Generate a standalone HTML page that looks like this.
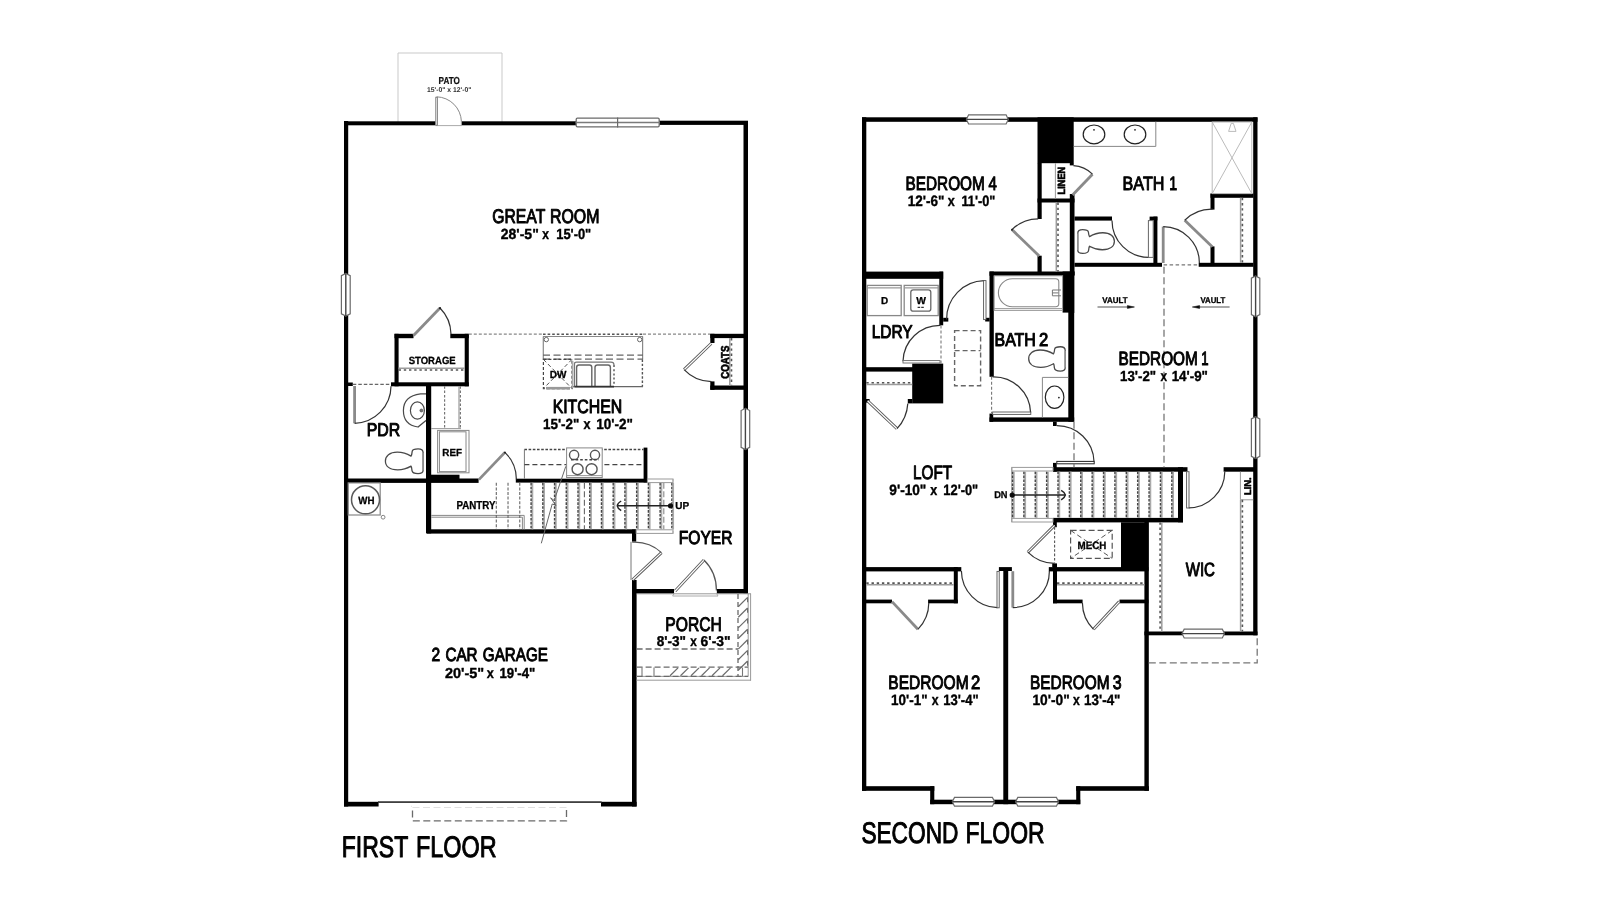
<!DOCTYPE html>
<html><head><meta charset="utf-8"><title>Floor plan</title>
<style>
html,body{margin:0;padding:0;background:#fff;}
body{width:1600px;height:899px;overflow:hidden;font-family:"Liberation Sans",sans-serif;}
svg{display:block;}
</style></head><body>
<svg width="1600" height="899" viewBox="0 0 1600 899">
<defs><filter id="soft" x="0" y="0" width="1600" height="899" filterUnits="userSpaceOnUse"><feGaussianBlur stdDeviation="0.5"/></filter></defs>
<rect x="0" y="0" width="1600" height="899" fill="#fff"/>
<g filter="url(#soft)">
<path d="M398,122 V53 H502 V122" fill="none" stroke="#c9c9c9" stroke-width="1" />
<rect x="344.00" y="121.30" width="232.00" height="4.00" fill="#000"/>
<rect x="659.00" y="120.70" width="89.00" height="4.20" fill="#000"/>
<rect x="344.00" y="121.00" width="4.20" height="685.50" fill="#000"/>
<rect x="743.50" y="121.00" width="4.50" height="472.60" fill="#000"/>
<rect x="344.00" y="801.80" width="34.60" height="4.70" fill="#000"/>
<rect x="601.00" y="801.80" width="35.60" height="4.70" fill="#000"/>
<line x1="378.00" y1="802.20" x2="601.50" y2="802.20" stroke="#333" stroke-width="1.2"/>
<rect x="412.50" y="806.50" width="154.00" height="14.30" fill="none" stroke="#6a6a6a" stroke-width="1.3" stroke-dasharray="7 3.5"/>
<rect x="412.00" y="805.00" width="155.00" height="2.20" fill="#fff"/>
<line x1="378.00" y1="802.20" x2="601.50" y2="802.20" stroke="#333" stroke-width="1.2"/>
<rect x="632.00" y="580.00" width="4.60" height="226.50" fill="#000"/>
<rect x="632.00" y="529.50" width="4.20" height="12.30" fill="#000"/>
<rect x="636.00" y="589.00" width="38.20" height="4.60" fill="#000"/>
<rect x="716.60" y="589.00" width="31.40" height="4.60" fill="#000"/>
<rect x="435.30" y="120.00" width="26.50" height="6.50" fill="#fff"/>
<line x1="435.30" y1="125.60" x2="461.80" y2="125.60" stroke="#aaa" stroke-width="1"/>
<line x1="436.60" y1="96.80" x2="436.60" y2="125.50" stroke="#666" stroke-width="2.4"/>
<line x1="436.60" y1="97.60" x2="436.60" y2="124.80" stroke="#fff" stroke-width="0.8"/>
<path d="M436.6,96.8 A25.5,25.5 0 0 1 461.4,121.5" fill="none" stroke="#888" stroke-width="1" />
<line x1="461.40" y1="121.00" x2="461.40" y2="125.50" stroke="#999" stroke-width="1"/>
<rect x="576.60" y="117.60" width="82.20" height="9.80" fill="#fff"/>
<rect x="576.20" y="118.20" width="83.00" height="8.60" fill="#fff" stroke="#6a6a6a" stroke-width="1.3" rx="1.2"/>
<line x1="575.60" y1="122.50" x2="659.80" y2="122.50" stroke="#7a7a7a" stroke-width="1.6"/>
<line x1="617.60" y1="117.60" x2="617.60" y2="127.40" stroke="#6a6a6a" stroke-width="1.2"/>
<rect x="340.80" y="274.50" width="10.00" height="40.50" fill="#fff"/>
<path d="M345.80,273.50 L350.20,275.70 V313.80 L345.80,316.00 L341.40,313.80 V275.70 Z" fill="#fff" stroke="#6a6a6a" stroke-width="1.2" />
<line x1="345.80" y1="273.50" x2="345.80" y2="316.00" stroke="#444" stroke-width="1.4"/>
<rect x="740.50" y="409.30" width="9.80" height="39.20" fill="#fff"/>
<path d="M745.40,408.30 L749.70,410.50 V447.30 L745.40,449.50 L741.10,447.30 V410.50 Z" fill="#fff" stroke="#6a6a6a" stroke-width="1.2" />
<line x1="745.40" y1="408.30" x2="745.40" y2="449.50" stroke="#444" stroke-width="1.4"/>
<rect x="394.50" y="333.80" width="19.00" height="4.40" fill="#000"/>
<rect x="450.30" y="333.80" width="18.50" height="4.40" fill="#000"/>
<rect x="394.50" y="333.80" width="4.10" height="52.50" fill="#000"/>
<rect x="464.70" y="333.80" width="4.10" height="52.50" fill="#000"/>
<rect x="391.00" y="382.30" width="77.80" height="4.00" fill="#000"/>
<rect x="348.00" y="382.50" width="4.80" height="3.50" fill="#000"/>
<line x1="352.80" y1="384.30" x2="391.00" y2="384.30" stroke="#666" stroke-width="1.2" stroke-dasharray="3.5 2"/>
<line x1="398.60" y1="368.30" x2="464.70" y2="368.30" stroke="#9c9c9c" stroke-width="1.5"/>
<line x1="398.60" y1="370.00" x2="464.70" y2="370.00" stroke="#555" stroke-width="1.6" stroke-dasharray="2.4 2.8"/>
<line x1="413.50" y1="335.50" x2="440.00" y2="308.00" stroke="#8a8a8a" stroke-width="2.8"/>
<path d="M440.00,308.00 A38.19,38.19 0 0 1 451.00,334.00" fill="none" stroke="#333" stroke-width="1.2" />
<circle cx="440" cy="308.2" r="1.1" fill="#222"/>
<line x1="468.80" y1="334.20" x2="543.00" y2="334.20" stroke="#888" stroke-width="1.2" stroke-dasharray="3 2"/>
<line x1="543.00" y1="334.20" x2="643.00" y2="334.20" stroke="#555" stroke-width="1.6" stroke-dasharray="2.6 2"/>
<line x1="643.00" y1="334.20" x2="710.30" y2="334.20" stroke="#888" stroke-width="1.2" stroke-dasharray="3 2"/>
<line x1="543.00" y1="336.50" x2="643.00" y2="336.50" stroke="#888" stroke-width="1"/>
<line x1="543.30" y1="336.50" x2="543.30" y2="359.50" stroke="#888" stroke-width="1.2"/>
<line x1="642.60" y1="336.50" x2="642.60" y2="359.50" stroke="#888" stroke-width="1.2"/>
<line x1="642.40" y1="359.50" x2="642.40" y2="386.80" stroke="#555" stroke-width="1.4" stroke-dasharray="2.4 1.8"/>
<line x1="572.30" y1="386.60" x2="643.00" y2="386.60" stroke="#666" stroke-width="1.4"/>
<circle cx="546.3" cy="339.6" r="2.2" fill="#fff" stroke="#666" stroke-width="1"/>
<circle cx="639.7" cy="339.6" r="2.2" fill="#fff" stroke="#666" stroke-width="1"/>
<line x1="543.00" y1="355.20" x2="643.00" y2="355.20" stroke="#666" stroke-width="1.2" stroke-dasharray="7 3.5"/>
<line x1="543.00" y1="359.20" x2="643.00" y2="359.20" stroke="#666" stroke-width="1.2" stroke-dasharray="7 3.5"/>
<rect x="543.40" y="359.40" width="28.60" height="29.20" fill="none" stroke="#444" stroke-width="1.2" stroke-dasharray="3 2"/>
<line x1="543.40" y1="359.40" x2="572.00" y2="388.60" stroke="#555" stroke-width="1" stroke-dasharray="4 2.5"/>
<line x1="572.00" y1="359.40" x2="543.40" y2="388.60" stroke="#555" stroke-width="1" stroke-dasharray="4 2.5"/>
<line x1="546.00" y1="388.20" x2="570.00" y2="388.20" stroke="#999" stroke-width="2.6"/>
<line x1="572.60" y1="361.00" x2="572.60" y2="388.00" stroke="#aaa" stroke-width="1.6"/>
<path d="M574.5,386.6 V364 Q574.5,362.2 576.5,362.2 H611 Q614,362.2 614,365" fill="none" stroke="#777" stroke-width="1.2" />
<line x1="614.00" y1="365.00" x2="614.00" y2="386.60" stroke="#666" stroke-width="1.6" stroke-dasharray="2 2.2"/>
<path d="M576.6,386 V367.5 Q576.6,365 579,365 H589.5 Q591.8,365 591.8,367.5 V386" fill="none" stroke="#666" stroke-width="1.4" />
<path d="M595,386 V367.5 Q595,365 597.4,365 H608 Q610.4,365 610.4,367.5 V386" fill="none" stroke="#666" stroke-width="1.4" />
<line x1="574.50" y1="386.60" x2="614.00" y2="386.60" stroke="#333" stroke-width="1.6"/>
<rect x="710.30" y="333.80" width="33.70" height="4.30" fill="#000"/>
<rect x="710.30" y="333.80" width="4.20" height="9.20" fill="#000"/>
<rect x="710.30" y="385.50" width="33.70" height="4.30" fill="#000"/>
<rect x="710.30" y="381.40" width="4.20" height="8.40" fill="#000"/>
<line x1="729.80" y1="338.00" x2="729.80" y2="385.50" stroke="#9c9c9c" stroke-width="1.5"/>
<line x1="731.50" y1="338.00" x2="731.50" y2="385.50" stroke="#555" stroke-width="1.6" stroke-dasharray="2.4 2.8"/>
<line x1="711.20" y1="343.50" x2="684.10" y2="369.70" stroke="#555" stroke-width="3.0"/>
<line x1="711.20" y1="343.50" x2="684.10" y2="369.70" stroke="#fff" stroke-width="1.2"/>
<path d="M684.10,369.70 A37.69,37.69 0 0 0 711.50,381.60" fill="none" stroke="#333" stroke-width="1.2" />
<rect x="426.00" y="386.00" width="5.20" height="147.40" fill="#000"/>
<rect x="344.00" y="478.50" width="134.60" height="4.40" fill="#000"/>
<rect x="430.50" y="474.70" width="29.00" height="4.50" fill="#000"/>
<rect x="515.80" y="478.70" width="131.50" height="3.90" fill="#000"/>
<rect x="643.60" y="447.60" width="3.80" height="34.80" fill="#000"/>
<rect x="427.00" y="529.30" width="209.20" height="4.30" fill="#000"/>
<line x1="354.60" y1="386.00" x2="354.60" y2="423.30" stroke="#8a8a8a" stroke-width="2.8"/>
<path d="M354.60,423.30 A37.30,37.30 0 0 0 391.00,386.30" fill="none" stroke="#333" stroke-width="1.2" />
<path d="M426,393.8 L420.5,393.8 Q403.4,396 403.4,410.5 Q403.4,425 418,427 L426,420.5" fill="#fff" stroke="#4a4a4a" stroke-width="1.2" />
<ellipse cx="417.40" cy="410.50" rx="7.00" ry="8.60" fill="none" stroke="#4a4a4a" stroke-width="1.2"/>
<circle cx="421.4" cy="410.5" r="1.5" fill="#777" stroke="#444" stroke-width="0.6"/>
<path d="M411.02,456.10 C406.06,453.00 401.93,452.10 397.28,452.10 C389.53,452.10 385.40,456.00 385.40,461.00 C385.40,466.00 389.53,469.80 397.79,469.80 C401.93,469.80 406.06,469.00 411.02,466.10 C411.74,467.00 411.74,469.00 411.94,470.30 C412.25,472.50 415.35,473.60 418.04,473.60 C421.03,473.60 423.10,472.50 423.10,470.30 L423.10,452.50 C423.10,450.00 421.03,448.80 418.04,448.80 C415.35,448.80 412.56,449.50 412.25,451.10 C412.05,453.00 411.74,455.00 411.02,456.10 Z" fill="#fff" stroke="#4a4a4a" stroke-width="1.3" stroke-linejoin="round"/>
<line x1="423.10" y1="453.00" x2="423.10" y2="470.00" stroke="#999" stroke-width="1.3"/>
<line x1="444.60" y1="386.30" x2="444.60" y2="428.60" stroke="#777" stroke-width="1.2" stroke-dasharray="2.5 1.8"/>
<line x1="459.00" y1="386.30" x2="459.00" y2="428.60" stroke="#999" stroke-width="1.2"/>
<line x1="460.40" y1="386.30" x2="460.40" y2="428.60" stroke="#777" stroke-width="1.2" stroke-dasharray="2.5 1.8"/>
<line x1="431.00" y1="428.60" x2="461.00" y2="428.60" stroke="#999" stroke-width="1"/>
<rect x="437.60" y="430.40" width="31.40" height="42.40" fill="none" stroke="#888" stroke-width="1"/>
<rect x="439.40" y="431.80" width="26.60" height="39.80" fill="none" stroke="#888" stroke-width="1"/>
<line x1="478.90" y1="479.60" x2="504.90" y2="452.40" stroke="#8a8a8a" stroke-width="2.8"/>
<path d="M504.90,452.40 A37.63,37.63 0 0 1 516.40,479.60" fill="none" stroke="#333" stroke-width="1.2" />
<circle cx="504.9" cy="452.6" r="1.0" fill="#222"/>
<path d="M524.4,449.6 H643.6" fill="none" stroke="#444" stroke-width="1.5" stroke-dasharray="2.6 1.6" />
<line x1="524.40" y1="449.40" x2="524.40" y2="478.70" stroke="#777" stroke-width="1"/>
<line x1="524.40" y1="464.60" x2="643.60" y2="464.60" stroke="#444" stroke-width="1.3" stroke-dasharray="5 3"/>
<rect x="566.60" y="447.90" width="35.60" height="29.60" fill="#fff" stroke="#888" stroke-width="1"/>
<line x1="566.60" y1="475.60" x2="602.20" y2="475.60" stroke="#999" stroke-width="1"/>
<circle cx="574.1" cy="454.9" r="4.6" fill="none" stroke="#555" stroke-width="1.4"/>
<circle cx="595.0" cy="454.9" r="4.6" fill="none" stroke="#555" stroke-width="1.4"/>
<circle cx="577.6" cy="469.2" r="5.5" fill="none" stroke="#555" stroke-width="1.4"/>
<circle cx="591.6" cy="469.2" r="5.5" fill="none" stroke="#555" stroke-width="1.4"/>
<line x1="571.00" y1="459.80" x2="599.00" y2="459.80" stroke="#444" stroke-width="1.4" stroke-dasharray="2.6 2"/>
<rect x="348.20" y="482.90" width="32.00" height="32.10" fill="none" stroke="#888" stroke-width="1.2"/>
<circle cx="365.5" cy="499.8" r="14" fill="none" stroke="#5a5a5a" stroke-width="1.5"/>
<circle cx="383.1" cy="517.2" r="1.9" fill="none" stroke="#777" stroke-width="0.9"/>
<path d="M431.2,515.4 H524.2 V529.3 M431.2,517.2 H522.4 V529.3" fill="none" stroke="#888" stroke-width="1" />
<line x1="496.30" y1="482.80" x2="496.30" y2="529.30" stroke="#666" stroke-width="1.1" stroke-dasharray="3 1.6"/>
<line x1="508.03" y1="482.80" x2="508.03" y2="529.30" stroke="#666" stroke-width="1.1" stroke-dasharray="3 1.6"/>
<line x1="519.76" y1="482.80" x2="519.76" y2="529.30" stroke="#666" stroke-width="1.1" stroke-dasharray="3 1.6"/>
<line x1="532.39" y1="482.80" x2="532.39" y2="529.30" stroke="#aaa" stroke-width="1.8"/>
<line x1="531.09" y1="482.80" x2="531.09" y2="529.30" stroke="#444" stroke-width="1.4" stroke-dasharray="2.6 1.3"/>
<line x1="544.12" y1="482.80" x2="544.12" y2="529.30" stroke="#aaa" stroke-width="1.8"/>
<line x1="542.82" y1="482.80" x2="542.82" y2="529.30" stroke="#444" stroke-width="1.4" stroke-dasharray="2.6 1.3"/>
<line x1="555.85" y1="482.80" x2="555.85" y2="529.30" stroke="#aaa" stroke-width="1.8"/>
<line x1="554.55" y1="482.80" x2="554.55" y2="529.30" stroke="#444" stroke-width="1.4" stroke-dasharray="2.6 1.3"/>
<line x1="567.58" y1="482.80" x2="567.58" y2="529.30" stroke="#aaa" stroke-width="1.8"/>
<line x1="566.28" y1="482.80" x2="566.28" y2="529.30" stroke="#444" stroke-width="1.4" stroke-dasharray="2.6 1.3"/>
<line x1="579.31" y1="482.80" x2="579.31" y2="529.30" stroke="#aaa" stroke-width="1.8"/>
<line x1="578.01" y1="482.80" x2="578.01" y2="529.30" stroke="#444" stroke-width="1.4" stroke-dasharray="2.6 1.3"/>
<line x1="591.04" y1="482.80" x2="591.04" y2="529.30" stroke="#aaa" stroke-width="1.8"/>
<line x1="589.74" y1="482.80" x2="589.74" y2="529.30" stroke="#444" stroke-width="1.4" stroke-dasharray="2.6 1.3"/>
<line x1="602.77" y1="482.80" x2="602.77" y2="529.30" stroke="#aaa" stroke-width="1.8"/>
<line x1="601.47" y1="482.80" x2="601.47" y2="529.30" stroke="#444" stroke-width="1.4" stroke-dasharray="2.6 1.3"/>
<line x1="614.50" y1="482.80" x2="614.50" y2="529.30" stroke="#aaa" stroke-width="1.8"/>
<line x1="613.20" y1="482.80" x2="613.20" y2="529.30" stroke="#444" stroke-width="1.4" stroke-dasharray="2.6 1.3"/>
<line x1="626.23" y1="482.80" x2="626.23" y2="529.30" stroke="#aaa" stroke-width="1.8"/>
<line x1="624.93" y1="482.80" x2="624.93" y2="529.30" stroke="#444" stroke-width="1.4" stroke-dasharray="2.6 1.3"/>
<line x1="637.96" y1="482.80" x2="637.96" y2="529.30" stroke="#aaa" stroke-width="1.8"/>
<line x1="636.66" y1="482.80" x2="636.66" y2="529.30" stroke="#444" stroke-width="1.4" stroke-dasharray="2.6 1.3"/>
<line x1="649.69" y1="482.80" x2="649.69" y2="529.30" stroke="#aaa" stroke-width="1.8"/>
<line x1="648.39" y1="482.80" x2="648.39" y2="529.30" stroke="#444" stroke-width="1.4" stroke-dasharray="2.6 1.3"/>
<line x1="661.42" y1="482.80" x2="661.42" y2="529.30" stroke="#aaa" stroke-width="1.8"/>
<line x1="660.12" y1="482.80" x2="660.12" y2="529.30" stroke="#444" stroke-width="1.4" stroke-dasharray="2.6 1.3"/>
<line x1="673.15" y1="482.80" x2="673.15" y2="529.30" stroke="#aaa" stroke-width="1.8"/>
<line x1="671.85" y1="482.80" x2="671.85" y2="529.30" stroke="#444" stroke-width="1.4" stroke-dasharray="2.6 1.3"/>
<line x1="584.40" y1="482.80" x2="584.40" y2="529.30" stroke="#666" stroke-width="1.1" stroke-dasharray="6 2.5"/>
<line x1="663.80" y1="482.80" x2="663.80" y2="529.30" stroke="#888" stroke-width="1.1" stroke-dasharray="6 2.5"/>
<rect x="647.40" y="479.00" width="25.60" height="3.60" fill="#fff" stroke="#999" stroke-width="1"/>
<rect x="636.20" y="529.80" width="36.80" height="3.60" fill="#fff" stroke="#999" stroke-width="1"/>
<line x1="673.00" y1="479.00" x2="673.00" y2="533.40" stroke="#aaa" stroke-width="1" stroke-dasharray="2.5 1.5"/>
<path d="M565.8,466.3 L554.2,500.5 L550.6,497.8 L556,505.5 L552.2,504 L541.3,543.3" fill="none" stroke="#666" stroke-width="1" />
<line x1="617.40" y1="505.80" x2="670.60" y2="505.80" stroke="#222" stroke-width="1.4"/>
<path d="M621.2,501 Q617.6,503 617.2,505.8 Q617.6,508.4 621.2,510.6" fill="none" stroke="#222" stroke-width="1.4" />
<circle cx="670.5" cy="505.8" r="2.6" fill="#111"/>
<rect x="630.20" y="541.80" width="6.80" height="38.20" fill="#fff"/>
<line x1="631.00" y1="541.80" x2="631.00" y2="580.00" stroke="#777" stroke-width="1"/>
<line x1="632.60" y1="579.80" x2="661.50" y2="552.60" stroke="#555" stroke-width="3.0"/>
<line x1="632.60" y1="579.80" x2="661.50" y2="552.60" stroke="#fff" stroke-width="1.2"/>
<path d="M661.50,552.60 A39.69,39.69 0 0 0 632.20,542.20" fill="none" stroke="#555" stroke-width="1.2" />
<rect x="674.20" y="588.50" width="42.40" height="5.50" fill="#fff"/>
<path d="M674.2,593.6 L672.6,596 H718 L716.6,593.6" fill="none" stroke="#aaa" stroke-width="1" />
<line x1="675.20" y1="591.00" x2="704.00" y2="560.00" stroke="#555" stroke-width="3.0"/>
<line x1="675.20" y1="591.00" x2="704.00" y2="560.00" stroke="#fff" stroke-width="1.2"/>
<path d="M704.00,560.00 A42.31,42.31 0 0 1 716.40,590.60" fill="none" stroke="#555" stroke-width="1.2" />
<line x1="636.60" y1="593.80" x2="751.00" y2="593.80" stroke="#999" stroke-width="1"/>
<line x1="750.60" y1="593.60" x2="750.60" y2="680.60" stroke="#999" stroke-width="1"/>
<line x1="636.60" y1="680.20" x2="751.00" y2="680.20" stroke="#999" stroke-width="1"/>
<line x1="636.60" y1="676.40" x2="748.40" y2="676.40" stroke="#999" stroke-width="1"/>
<line x1="748.20" y1="593.60" x2="748.20" y2="676.40" stroke="#999" stroke-width="1"/>
<line x1="738.00" y1="594.00" x2="738.00" y2="676.00" stroke="#6a6a6a" stroke-width="1.3" stroke-dasharray="5 3"/>
<line x1="636.60" y1="649.00" x2="738.00" y2="649.00" stroke="#6a6a6a" stroke-width="1.3" stroke-dasharray="6 3"/>
<line x1="636.60" y1="667.20" x2="748.00" y2="667.20" stroke="#6a6a6a" stroke-width="1.3" stroke-dasharray="6 3"/>
<line x1="738.20" y1="606.70" x2="747.60" y2="597.40" stroke="#6a6a6a" stroke-width="1.2"/>
<line x1="747.60" y1="597.40" x2="747.60" y2="602.20" stroke="#6a6a6a" stroke-width="1.1"/>
<line x1="738.20" y1="617.30" x2="747.60" y2="608.00" stroke="#6a6a6a" stroke-width="1.2"/>
<line x1="747.60" y1="608.00" x2="747.60" y2="612.80" stroke="#6a6a6a" stroke-width="1.1"/>
<line x1="738.20" y1="627.90" x2="747.60" y2="618.60" stroke="#6a6a6a" stroke-width="1.2"/>
<line x1="747.60" y1="618.60" x2="747.60" y2="623.40" stroke="#6a6a6a" stroke-width="1.1"/>
<line x1="738.20" y1="638.50" x2="747.60" y2="629.20" stroke="#6a6a6a" stroke-width="1.2"/>
<line x1="747.60" y1="629.20" x2="747.60" y2="634.00" stroke="#6a6a6a" stroke-width="1.1"/>
<line x1="738.20" y1="649.10" x2="747.60" y2="639.80" stroke="#6a6a6a" stroke-width="1.2"/>
<line x1="747.60" y1="639.80" x2="747.60" y2="644.60" stroke="#6a6a6a" stroke-width="1.1"/>
<line x1="738.20" y1="659.70" x2="747.60" y2="650.40" stroke="#6a6a6a" stroke-width="1.2"/>
<line x1="747.60" y1="650.40" x2="747.60" y2="655.20" stroke="#6a6a6a" stroke-width="1.1"/>
<line x1="738.20" y1="670.30" x2="747.60" y2="661.00" stroke="#6a6a6a" stroke-width="1.2"/>
<line x1="747.60" y1="661.00" x2="747.60" y2="665.80" stroke="#6a6a6a" stroke-width="1.1"/>
<line x1="722.50" y1="675.80" x2="730.50" y2="667.90" stroke="#6a6a6a" stroke-width="1.2"/>
<line x1="712.00" y1="675.80" x2="720.00" y2="667.90" stroke="#6a6a6a" stroke-width="1.2"/>
<line x1="701.50" y1="675.80" x2="709.50" y2="667.90" stroke="#6a6a6a" stroke-width="1.2"/>
<line x1="691.00" y1="675.80" x2="699.00" y2="667.90" stroke="#6a6a6a" stroke-width="1.2"/>
<line x1="680.50" y1="675.80" x2="688.50" y2="667.90" stroke="#6a6a6a" stroke-width="1.2"/>
<line x1="670.00" y1="675.80" x2="678.00" y2="667.90" stroke="#6a6a6a" stroke-width="1.2"/>
<line x1="642.00" y1="667.60" x2="642.00" y2="676.20" stroke="#777" stroke-width="1.1"/>
<line x1="654.00" y1="667.60" x2="654.00" y2="676.20" stroke="#777" stroke-width="1.1"/>
<line x1="742.50" y1="667.60" x2="742.50" y2="676.20" stroke="#777" stroke-width="1.1"/>
<line x1="636.60" y1="676.40" x2="748.00" y2="676.40" stroke="#6a6a6a" stroke-width="1.2" stroke-dasharray="6 3"/>
<rect x="862.00" y="117.30" width="395.50" height="4.50" fill="#000"/>
<rect x="862.00" y="117.30" width="4.30" height="673.50" fill="#000"/>
<rect x="1253.20" y="117.30" width="4.30" height="518.00" fill="#000"/>
<rect x="1037.50" y="117.30" width="36.20" height="45.90" fill="#000"/>
<rect x="1069.80" y="163.00" width="3.90" height="2.40" fill="#000"/>
<rect x="1037.50" y="163.00" width="4.20" height="56.00" fill="#000"/>
<rect x="1037.50" y="255.70" width="4.20" height="16.30" fill="#000"/>
<rect x="1037.50" y="198.50" width="37.00" height="4.00" fill="#000"/>
<rect x="1069.80" y="194.00" width="4.70" height="81.00" fill="#000"/>
<rect x="989.50" y="271.50" width="85.00" height="4.30" fill="#000"/>
<rect x="1062.60" y="271.50" width="11.80" height="41.10" fill="#000"/>
<rect x="1068.30" y="312.00" width="5.90" height="109.70" fill="#000"/>
<rect x="989.50" y="271.50" width="4.30" height="105.30" fill="#000"/>
<rect x="989.50" y="417.40" width="84.70" height="4.40" fill="#000"/>
<rect x="989.50" y="413.60" width="3.70" height="8.20" fill="#000"/>
<rect x="1053.00" y="421.70" width="3.70" height="4.30" fill="#000"/>
<rect x="1074.50" y="216.50" width="37.50" height="4.10" fill="#000"/>
<rect x="1153.40" y="216.60" width="4.00" height="46.40" fill="#000"/>
<rect x="1149.60" y="216.60" width="7.80" height="3.80" fill="#000"/>
<rect x="1074.50" y="262.80" width="87.50" height="4.00" fill="#000"/>
<rect x="1198.70" y="262.80" width="54.80" height="4.00" fill="#000"/>
<rect x="1210.50" y="193.60" width="43.00" height="4.20" fill="#000"/>
<rect x="1210.50" y="193.60" width="4.00" height="16.00" fill="#000"/>
<rect x="1210.50" y="246.40" width="4.00" height="16.60" fill="#000"/>
<rect x="862.00" y="271.60" width="81.20" height="7.20" fill="#000"/>
<rect x="939.30" y="271.60" width="3.90" height="53.70" fill="#000"/>
<rect x="943.20" y="317.80" width="5.10" height="3.80" fill="#000"/>
<rect x="985.20" y="317.80" width="4.40" height="3.70" fill="#000"/>
<rect x="862.00" y="367.20" width="51.60" height="4.40" fill="#000"/>
<rect x="912.20" y="363.60" width="31.00" height="39.80" fill="#000"/>
<rect x="907.80" y="399.00" width="4.50" height="4.40" fill="#000"/>
<rect x="866.00" y="399.00" width="3.60" height="3.60" fill="#000"/>
<rect x="1053.00" y="467.20" width="134.50" height="4.50" fill="#000"/>
<rect x="1053.00" y="462.90" width="3.70" height="8.80" fill="#000"/>
<rect x="1178.00" y="467.20" width="5.00" height="55.10" fill="#000"/>
<rect x="1053.00" y="517.90" width="130.00" height="4.50" fill="#000"/>
<rect x="1053.00" y="522.00" width="3.80" height="5.20" fill="#000"/>
<rect x="1223.60" y="467.20" width="30.40" height="4.50" fill="#000"/>
<rect x="1121.00" y="522.30" width="27.40" height="48.50" fill="#000"/>
<rect x="1048.80" y="567.10" width="99.60" height="4.30" fill="#000"/>
<rect x="1052.20" y="563.40" width="4.80" height="3.80" fill="#000"/>
<rect x="1144.40" y="522.00" width="4.40" height="268.80" fill="#000"/>
<rect x="1144.40" y="631.50" width="113.10" height="3.80" fill="#000"/>
<rect x="1053.00" y="567.10" width="4.00" height="36.20" fill="#000"/>
<rect x="1053.00" y="599.60" width="29.60" height="3.70" fill="#000"/>
<rect x="1119.50" y="599.60" width="28.90" height="3.70" fill="#000"/>
<rect x="862.00" y="567.10" width="99.30" height="4.30" fill="#000"/>
<rect x="953.80" y="567.10" width="4.00" height="36.20" fill="#000"/>
<rect x="866.00" y="599.60" width="26.00" height="3.70" fill="#000"/>
<rect x="928.10" y="599.60" width="29.70" height="3.70" fill="#000"/>
<rect x="1003.30" y="570.70" width="4.90" height="233.50" fill="#000"/>
<rect x="998.90" y="567.10" width="13.00" height="3.90" fill="#000"/>
<rect x="862.00" y="786.20" width="72.30" height="4.60" fill="#000"/>
<rect x="1076.20" y="786.20" width="72.70" height="4.60" fill="#000"/>
<rect x="930.20" y="786.20" width="4.10" height="18.00" fill="#000"/>
<rect x="1076.20" y="786.20" width="4.10" height="18.00" fill="#000"/>
<rect x="930.20" y="799.70" width="150.10" height="4.50" fill="#000"/>
<rect x="967.40" y="114.20" width="39.90" height="10.40" fill="#fff"/>
<path d="M966.40,119.40 L968.60,114.80 H1006.10 L1008.30,119.40 L1006.10,124.00 H968.60 Z" fill="#fff" stroke="#6a6a6a" stroke-width="1.2" />
<line x1="966.40" y1="119.40" x2="1008.30" y2="119.40" stroke="#444" stroke-width="1.4"/>
<rect x="1250.80" y="277.00" width="9.60" height="38.80" fill="#fff"/>
<path d="M1255.60,276.00 L1259.80,278.20 V314.60 L1255.60,316.80 L1251.40,314.60 V278.20 Z" fill="#fff" stroke="#6a6a6a" stroke-width="1.2" />
<line x1="1255.60" y1="276.00" x2="1255.60" y2="316.80" stroke="#444" stroke-width="1.4"/>
<rect x="1250.80" y="417.70" width="9.60" height="39.90" fill="#fff"/>
<path d="M1255.60,416.70 L1259.80,418.90 V456.40 L1255.60,458.60 L1251.40,456.40 V418.90 Z" fill="#fff" stroke="#6a6a6a" stroke-width="1.2" />
<line x1="1255.60" y1="416.70" x2="1255.60" y2="458.60" stroke="#444" stroke-width="1.4"/>
<rect x="1183.00" y="628.60" width="40.50" height="10.00" fill="#fff"/>
<path d="M1182.00,633.60 L1184.20,629.20 H1222.30 L1224.50,633.60 L1222.30,638.00 H1184.20 Z" fill="#fff" stroke="#6a6a6a" stroke-width="1.2" />
<line x1="1182.00" y1="633.60" x2="1224.50" y2="633.60" stroke="#444" stroke-width="1.4"/>
<rect x="953.30" y="796.80" width="40.30" height="10.00" fill="#fff"/>
<path d="M952.30,801.80 L954.50,797.40 H992.40 L994.60,801.80 L992.40,806.20 H954.50 Z" fill="#fff" stroke="#6a6a6a" stroke-width="1.2" />
<line x1="952.30" y1="801.80" x2="994.60" y2="801.80" stroke="#444" stroke-width="1.4"/>
<rect x="1016.60" y="796.80" width="41.00" height="10.00" fill="#fff"/>
<path d="M1015.60,801.80 L1017.80,797.40 H1056.40 L1058.60,801.80 L1056.40,806.20 H1017.80 Z" fill="#fff" stroke="#6a6a6a" stroke-width="1.2" />
<line x1="1015.60" y1="801.80" x2="1058.60" y2="801.80" stroke="#444" stroke-width="1.4"/>
<line x1="1055.40" y1="163.20" x2="1055.40" y2="198.50" stroke="#999" stroke-width="1"/>
<line x1="1072.60" y1="195.00" x2="1092.50" y2="174.20" stroke="#8a8a8a" stroke-width="2.8"/>
<path d="M1092.50,174.20 A28.79,28.79 0 0 0 1073.40,165.60" fill="none" stroke="#333" stroke-width="1.2" />
<line x1="1056.30" y1="202.50" x2="1056.30" y2="271.50" stroke="#9c9c9c" stroke-width="1.5"/>
<line x1="1058.00" y1="202.50" x2="1058.00" y2="271.50" stroke="#555" stroke-width="1.6" stroke-dasharray="2.4 2.8"/>
<line x1="1039.20" y1="256.00" x2="1011.90" y2="229.60" stroke="#8a8a8a" stroke-width="2.8"/>
<path d="M1011.90,229.60 A37.98,37.98 0 0 1 1038.20,218.80" fill="none" stroke="#333" stroke-width="1.2" />
<circle cx="1012" cy="229.7" r="1.0" fill="#222"/>
<path d="M1073.7,146.4 H1155.8 V121.8" fill="none" stroke="#888" stroke-width="1" />
<ellipse cx="1094.00" cy="134.40" rx="10.80" ry="9.40" fill="none" stroke="#222" stroke-width="1.2"/>
<ellipse cx="1135.00" cy="134.40" rx="10.80" ry="9.40" fill="none" stroke="#222" stroke-width="1.2"/>
<circle cx="1094" cy="129.8" r="0.9" fill="#222"/>
<circle cx="1135" cy="129.8" r="0.9" fill="#222"/>
<rect x="1212.20" y="122.00" width="39.60" height="71.60" fill="none" stroke="#bbb" stroke-width="1"/>
<line x1="1212.20" y1="122.00" x2="1251.80" y2="193.60" stroke="#bbb" stroke-width="1"/>
<line x1="1251.80" y1="122.00" x2="1212.20" y2="193.60" stroke="#bbb" stroke-width="1"/>
<path d="M1231.2,123.4 L1228.6,131.4 H1236 L1233.4,123.4 Z" fill="#fff" stroke="#bbb" stroke-width="1" />
<line x1="1240.60" y1="197.80" x2="1240.60" y2="262.80" stroke="#9c9c9c" stroke-width="1.5"/>
<line x1="1242.40" y1="197.80" x2="1242.40" y2="262.80" stroke="#555" stroke-width="1.6" stroke-dasharray="2.4 2.8"/>
<line x1="1212.20" y1="246.80" x2="1184.70" y2="220.30" stroke="#8a8a8a" stroke-width="2.8"/>
<path d="M1184.70,220.30 A38.19,38.19 0 0 1 1212.60,209.20" fill="none" stroke="#333" stroke-width="1.2" />
<path d="M1112,220.4 A37,37 0 0 0 1149,257.4" fill="none" stroke="#333" stroke-width="1.2" />
<rect x="1148.40" y="220.60" width="4.80" height="36.80" fill="#fff" stroke="#666" stroke-width="1"/>
<path d="M1089.53,236.60 C1094.35,233.62 1098.36,232.76 1102.87,232.76 C1110.39,232.76 1114.40,236.50 1114.40,241.30 C1114.40,246.10 1110.39,249.75 1102.37,249.75 C1098.36,249.75 1094.35,248.98 1089.53,246.20 C1088.83,247.06 1088.83,248.98 1088.63,250.23 C1088.33,252.34 1085.32,253.40 1082.71,253.40 C1079.81,253.40 1077.80,252.34 1077.80,250.23 L1077.80,233.14 C1077.80,230.74 1079.81,229.59 1082.71,229.59 C1085.32,229.59 1088.03,230.26 1088.33,231.80 C1088.53,233.62 1088.83,235.54 1089.53,236.60 Z" fill="#fff" stroke="#4a4a4a" stroke-width="1.3" stroke-linejoin="round"/>
<line x1="1077.80" y1="233.62" x2="1077.80" y2="249.94" stroke="#999" stroke-width="1.3"/>
<line x1="1163.20" y1="263.00" x2="1163.20" y2="226.60" stroke="#8a8a8a" stroke-width="2.8"/>
<path d="M1163.20,226.60 A36.40,36.40 0 0 1 1199.40,263.00" fill="none" stroke="#333" stroke-width="1.2" />
<line x1="1163.60" y1="264.80" x2="1198.70" y2="264.80" stroke="#777" stroke-width="1.2" stroke-dasharray="3.5 2.5"/>
<line x1="1164.00" y1="266.80" x2="1164.00" y2="467.20" stroke="#777" stroke-width="1.3" stroke-dasharray="7 3.5"/>
<line x1="1097.50" y1="307.00" x2="1128.00" y2="307.00" stroke="#999" stroke-width="1.7"/>
<path d="M1134.4,307 L1127.4,305.6 V308.4 Z" fill="#111" stroke="#111" stroke-width="0.6" />
<line x1="1199.00" y1="307.00" x2="1229.60" y2="307.00" stroke="#999" stroke-width="1.7"/>
<path d="M1192.4,307 L1199.6,305.6 V308.4 Z" fill="#111" stroke="#111" stroke-width="0.6" />
<rect x="867.20" y="285.40" width="34.00" height="30.20" fill="none" stroke="#888" stroke-width="1.3"/>
<rect x="904.20" y="285.40" width="34.00" height="30.20" fill="none" stroke="#888" stroke-width="1.3"/>
<line x1="867.20" y1="287.80" x2="901.20" y2="287.80" stroke="#999" stroke-width="1.2"/>
<line x1="904.20" y1="287.80" x2="938.20" y2="287.80" stroke="#999" stroke-width="1.2"/>
<rect x="910.80" y="289.80" width="20.00" height="21.40" fill="none" stroke="#666" stroke-width="1.3" rx="2.5"/>
<line x1="917.60" y1="307.40" x2="924.40" y2="307.40" stroke="#333" stroke-width="1.3" stroke-dasharray="2.6 1"/>
<path d="M984.2,280.6 A38.5,38.5 0 0 0 946.6,319.4" fill="none" stroke="#333" stroke-width="1.2" />
<rect x="983.60" y="280.60" width="2.40" height="39.00" fill="#fff" stroke="#555" stroke-width="0.9"/>
<path d="M940.6,325.3 A37,37 0 0 0 903,361.2" fill="none" stroke="#333" stroke-width="1.2" />
<rect x="903.00" y="360.60" width="37.00" height="2.40" fill="#fff" stroke="#666" stroke-width="0.9"/>
<line x1="941.00" y1="325.50" x2="941.00" y2="363.50" stroke="#777" stroke-width="1.1" stroke-dasharray="3 2"/>
<rect x="954.60" y="330.60" width="26.00" height="55.20" fill="none" stroke="#666" stroke-width="1.4" stroke-dasharray="5 3"/>
<line x1="954.60" y1="350.60" x2="980.60" y2="350.60" stroke="#666" stroke-width="1.4" stroke-dasharray="5 3"/>
<line x1="866.30" y1="384.50" x2="912.20" y2="384.50" stroke="#9c9c9c" stroke-width="1.5"/>
<line x1="866.30" y1="382.80" x2="912.20" y2="382.80" stroke="#555" stroke-width="1.6" stroke-dasharray="2.4 2.8"/>
<line x1="867.60" y1="400.80" x2="897.00" y2="428.70" stroke="#555" stroke-width="3.0"/>
<line x1="867.60" y1="400.80" x2="897.00" y2="428.70" stroke="#fff" stroke-width="1.2"/>
<path d="M897.00,428.70 A40.53,40.53 0 0 0 907.80,403.60" fill="none" stroke="#333" stroke-width="1.2" />
<rect x="994.20" y="275.80" width="68.40" height="34.60" fill="none" stroke="#999" stroke-width="1"/>
<line x1="994.20" y1="308.60" x2="1062.60" y2="308.60" stroke="#999" stroke-width="1"/>
<path d="M1012.4,278.8 H1055.6 Q1058.8,278.8 1058.8,282 V303.6 Q1058.8,306.8 1055.6,306.8 H1012.4 A14,14 0 0 1 1012.4,278.8 Z" fill="none" stroke="#888" stroke-width="1.1" />
<path d="M1061,290 H1052.4 V295.8 H1061" fill="none" stroke="#777" stroke-width="1" />
<line x1="1052.40" y1="292.90" x2="1058.50" y2="292.90" stroke="#777" stroke-width="1"/>
<path d="M992.6,376.8 A37,37 0 0 1 1030.6,412.4" fill="none" stroke="#333" stroke-width="1.2" />
<rect x="992.60" y="412.00" width="38.20" height="2.40" fill="#fff" stroke="#555" stroke-width="0.9"/>
<line x1="991.60" y1="376.80" x2="991.60" y2="413.60" stroke="#777" stroke-width="1.1" stroke-dasharray="3 2"/>
<path d="M1053.50,353.90 C1048.70,350.86 1044.70,349.98 1040.20,349.98 C1032.70,349.98 1028.70,353.80 1028.70,358.70 C1028.70,363.60 1032.70,367.32 1040.70,367.32 C1044.70,367.32 1048.70,366.54 1053.50,363.70 C1054.20,364.58 1054.20,366.54 1054.40,367.81 C1054.70,369.97 1057.70,371.05 1060.30,371.05 C1063.20,371.05 1065.20,369.97 1065.20,367.81 L1065.20,350.37 C1065.20,347.92 1063.20,346.74 1060.30,346.74 C1057.70,346.74 1055.00,347.43 1054.70,349.00 C1054.50,350.86 1054.20,352.82 1053.50,353.90 Z" fill="#fff" stroke="#4a4a4a" stroke-width="1.3" stroke-linejoin="round"/>
<line x1="1065.20" y1="350.86" x2="1065.20" y2="367.52" stroke="#999" stroke-width="1.3"/>
<path d="M1068.3,377.4 H1042.4 V417.4" fill="none" stroke="#888" stroke-width="1" />
<ellipse cx="1054.60" cy="397.20" rx="9.30" ry="11.20" fill="none" stroke="#222" stroke-width="1.2"/>
<circle cx="1058.9" cy="397.6" r="0.9" fill="#222"/>
<path d="M1056.8,425.6 A37,37 0 0 1 1094,461.6" fill="none" stroke="#333" stroke-width="1.2" />
<rect x="1056.80" y="461.40" width="37.40" height="2.40" fill="#fff" stroke="#222" stroke-width="1"/>
<line x1="1074.00" y1="421.80" x2="1074.00" y2="467.20" stroke="#777" stroke-width="1.3" stroke-dasharray="7 3.5"/>
<rect x="1011.80" y="467.40" width="41.20" height="3.60" fill="#fff" stroke="#999" stroke-width="1"/>
<rect x="1011.80" y="518.40" width="41.20" height="3.60" fill="#fff" stroke="#999" stroke-width="1"/>
<line x1="1011.80" y1="467.40" x2="1011.80" y2="522.00" stroke="#999" stroke-width="1"/>
<line x1="1013.80" y1="471.70" x2="1013.80" y2="517.90" stroke="#aaa" stroke-width="1.8"/>
<line x1="1012.50" y1="471.70" x2="1012.50" y2="517.90" stroke="#444" stroke-width="1.4" stroke-dasharray="2.6 1.3"/>
<line x1="1025.18" y1="471.70" x2="1025.18" y2="517.90" stroke="#aaa" stroke-width="1.8"/>
<line x1="1023.88" y1="471.70" x2="1023.88" y2="517.90" stroke="#444" stroke-width="1.4" stroke-dasharray="2.6 1.3"/>
<line x1="1036.56" y1="471.70" x2="1036.56" y2="517.90" stroke="#aaa" stroke-width="1.8"/>
<line x1="1035.26" y1="471.70" x2="1035.26" y2="517.90" stroke="#444" stroke-width="1.4" stroke-dasharray="2.6 1.3"/>
<line x1="1047.94" y1="471.70" x2="1047.94" y2="517.90" stroke="#aaa" stroke-width="1.8"/>
<line x1="1046.64" y1="471.70" x2="1046.64" y2="517.90" stroke="#444" stroke-width="1.4" stroke-dasharray="2.6 1.3"/>
<line x1="1059.32" y1="471.70" x2="1059.32" y2="517.90" stroke="#aaa" stroke-width="1.8"/>
<line x1="1058.02" y1="471.70" x2="1058.02" y2="517.90" stroke="#444" stroke-width="1.4" stroke-dasharray="2.6 1.3"/>
<line x1="1070.70" y1="471.70" x2="1070.70" y2="517.90" stroke="#aaa" stroke-width="1.8"/>
<line x1="1069.40" y1="471.70" x2="1069.40" y2="517.90" stroke="#444" stroke-width="1.4" stroke-dasharray="2.6 1.3"/>
<line x1="1082.08" y1="471.70" x2="1082.08" y2="517.90" stroke="#aaa" stroke-width="1.8"/>
<line x1="1080.78" y1="471.70" x2="1080.78" y2="517.90" stroke="#444" stroke-width="1.4" stroke-dasharray="2.6 1.3"/>
<line x1="1093.46" y1="471.70" x2="1093.46" y2="517.90" stroke="#aaa" stroke-width="1.8"/>
<line x1="1092.16" y1="471.70" x2="1092.16" y2="517.90" stroke="#444" stroke-width="1.4" stroke-dasharray="2.6 1.3"/>
<line x1="1104.84" y1="471.70" x2="1104.84" y2="517.90" stroke="#aaa" stroke-width="1.8"/>
<line x1="1103.54" y1="471.70" x2="1103.54" y2="517.90" stroke="#444" stroke-width="1.4" stroke-dasharray="2.6 1.3"/>
<line x1="1116.22" y1="471.70" x2="1116.22" y2="517.90" stroke="#aaa" stroke-width="1.8"/>
<line x1="1114.92" y1="471.70" x2="1114.92" y2="517.90" stroke="#444" stroke-width="1.4" stroke-dasharray="2.6 1.3"/>
<line x1="1127.60" y1="471.70" x2="1127.60" y2="517.90" stroke="#aaa" stroke-width="1.8"/>
<line x1="1126.30" y1="471.70" x2="1126.30" y2="517.90" stroke="#444" stroke-width="1.4" stroke-dasharray="2.6 1.3"/>
<line x1="1138.98" y1="471.70" x2="1138.98" y2="517.90" stroke="#aaa" stroke-width="1.8"/>
<line x1="1137.68" y1="471.70" x2="1137.68" y2="517.90" stroke="#444" stroke-width="1.4" stroke-dasharray="2.6 1.3"/>
<line x1="1150.36" y1="471.70" x2="1150.36" y2="517.90" stroke="#aaa" stroke-width="1.8"/>
<line x1="1149.06" y1="471.70" x2="1149.06" y2="517.90" stroke="#444" stroke-width="1.4" stroke-dasharray="2.6 1.3"/>
<line x1="1161.74" y1="471.70" x2="1161.74" y2="517.90" stroke="#aaa" stroke-width="1.8"/>
<line x1="1160.44" y1="471.70" x2="1160.44" y2="517.90" stroke="#444" stroke-width="1.4" stroke-dasharray="2.6 1.3"/>
<line x1="1173.12" y1="471.70" x2="1173.12" y2="517.90" stroke="#aaa" stroke-width="1.8"/>
<line x1="1171.82" y1="471.70" x2="1171.82" y2="517.90" stroke="#444" stroke-width="1.4" stroke-dasharray="2.6 1.3"/>
<line x1="1012.20" y1="495.00" x2="1065.00" y2="495.00" stroke="#222" stroke-width="1.4"/>
<path d="M1061.2,490.4 Q1064.8,492.4 1065.4,495 Q1064.8,497.6 1061.2,499.8" fill="none" stroke="#222" stroke-width="1.4" />
<circle cx="1012.2" cy="495" r="2.6" fill="#111"/>
<path d="M1188.8,507.8 A36.5,36.5 0 0 0 1224.8,471.7" fill="none" stroke="#333" stroke-width="1.2" />
<rect x="1186.60" y="471.70" width="2.40" height="36.30" fill="#fff" stroke="#555" stroke-width="0.9"/>
<path d="M1253.2,499.8 H1240.4 V471.7" fill="none" stroke="#999" stroke-width="1" />
<line x1="1240.60" y1="499.80" x2="1240.60" y2="631.50" stroke="#9c9c9c" stroke-width="1.5"/>
<line x1="1242.40" y1="499.80" x2="1242.40" y2="631.50" stroke="#555" stroke-width="1.6" stroke-dasharray="2.4 2.8"/>
<line x1="1161.80" y1="522.40" x2="1161.80" y2="631.50" stroke="#9c9c9c" stroke-width="1.5"/>
<line x1="1160.10" y1="522.40" x2="1160.10" y2="631.50" stroke="#555" stroke-width="1.6" stroke-dasharray="2.4 2.8"/>
<line x1="1054.60" y1="527.20" x2="1054.60" y2="563.40" stroke="#555" stroke-width="1.1" stroke-dasharray="2.6 1.8"/>
<rect x="1070.60" y="530.40" width="41.60" height="28.00" fill="none" stroke="#555" stroke-width="1.2" stroke-dasharray="6 3"/>
<line x1="1070.60" y1="530.40" x2="1112.20" y2="558.40" stroke="#555" stroke-width="1" stroke-dasharray="5 3"/>
<line x1="1112.20" y1="530.40" x2="1070.60" y2="558.40" stroke="#555" stroke-width="1" stroke-dasharray="5 3"/>
<line x1="1054.60" y1="525.40" x2="1027.80" y2="552.20" stroke="#555" stroke-width="3.0"/>
<line x1="1054.60" y1="525.40" x2="1027.80" y2="552.20" stroke="#fff" stroke-width="1.2"/>
<path d="M1027.80,552.20 A37.90,37.90 0 0 0 1054.40,563.40" fill="none" stroke="#333" stroke-width="1.2" />
<line x1="1057.00" y1="584.80" x2="1144.40" y2="584.80" stroke="#9c9c9c" stroke-width="1.5"/>
<line x1="1057.00" y1="583.10" x2="1144.40" y2="583.10" stroke="#555" stroke-width="1.6" stroke-dasharray="2.4 2.8"/>
<line x1="1119.30" y1="601.60" x2="1093.50" y2="629.30" stroke="#555" stroke-width="3.0"/>
<line x1="1119.30" y1="601.60" x2="1093.50" y2="629.30" stroke="#fff" stroke-width="1.2"/>
<path d="M1093.50,629.30 A37.85,37.85 0 0 1 1082.40,603.00" fill="none" stroke="#333" stroke-width="1.2" />
<line x1="866.30" y1="584.80" x2="953.80" y2="584.80" stroke="#9c9c9c" stroke-width="1.5"/>
<line x1="866.30" y1="583.10" x2="953.80" y2="583.10" stroke="#555" stroke-width="1.6" stroke-dasharray="2.4 2.8"/>
<line x1="892.00" y1="601.60" x2="917.90" y2="629.30" stroke="#8a8a8a" stroke-width="2.8"/>
<path d="M917.90,629.30 A37.92,37.92 0 0 0 928.80,603.00" fill="none" stroke="#333" stroke-width="1.2" />
<path d="M961.4,571 A37,37 0 0 0 997.4,607.6" fill="none" stroke="#333" stroke-width="1.2" />
<rect x="997.00" y="571.40" width="2.20" height="36.40" fill="#fff" stroke="#555" stroke-width="0.9"/>
<line x1="1012.80" y1="571.20" x2="1012.80" y2="607.60" stroke="#8a8a8a" stroke-width="2.8"/>
<path d="M1012.80,607.60 A36.40,36.40 0 0 0 1049.40,571.00" fill="none" stroke="#333" stroke-width="1.2" />
<path d="M1148.8,662.8 H1257.2 V635.3" fill="none" stroke="#777" stroke-width="1.3" stroke-dasharray="7 3.5" />
<g font-family="'Liberation Sans', sans-serif" text-rendering="geometricPrecision">
<text x="438.57" y="84.20" font-size="10.14" font-weight="bold" textLength="21.27" lengthAdjust="spacingAndGlyphs" fill="#111" stroke="#111" stroke-width="0.2" stroke-linejoin="round">PATO</text>
<text x="427.09" y="92.40" font-size="7.04" font-weight="bold" textLength="44.34" lengthAdjust="spacingAndGlyphs" fill="#333">15'-0&quot; x 12'-0&quot;</text>
<text x="492.32" y="223.00" font-size="19.86" font-weight="normal" textLength="52.91" lengthAdjust="spacingAndGlyphs" fill="#000" stroke="#000" stroke-width="1.0" stroke-linejoin="round">GREAT</text>
<text x="549.93" y="223.00" font-size="19.86" font-weight="normal" textLength="49.56" lengthAdjust="spacingAndGlyphs" fill="#000" stroke="#000" stroke-width="1.0" stroke-linejoin="round">ROOM</text>
<text x="500.81" y="238.50" font-size="14.65" font-weight="bold" textLength="37.98" lengthAdjust="spacingAndGlyphs" fill="#000" stroke="#000" stroke-width="0.4" stroke-linejoin="round">28'-5&quot;</text>
<text x="542.28" y="238.50" font-size="14.65" font-weight="bold" textLength="6.69" lengthAdjust="spacingAndGlyphs" fill="#000" stroke="#000" stroke-width="0.4" stroke-linejoin="round">x</text>
<text x="556.23" y="238.50" font-size="14.65" font-weight="bold" textLength="34.99" lengthAdjust="spacingAndGlyphs" fill="#000" stroke="#000" stroke-width="0.4" stroke-linejoin="round">15'-0&quot;</text>
<text x="408.66" y="363.85" font-size="10.43" font-weight="bold" textLength="47.04" lengthAdjust="spacingAndGlyphs" fill="#000" stroke="#000" stroke-width="0.3" stroke-linejoin="round">STORAGE</text>
<text x="366.73" y="436.40" font-size="18.41" font-weight="normal" textLength="33.51" lengthAdjust="spacingAndGlyphs" fill="#000" stroke="#000" stroke-width="1.0" stroke-linejoin="round">PDR</text>
<text x="442.31" y="455.65" font-size="10.29" font-weight="bold" textLength="19.68" lengthAdjust="spacingAndGlyphs" fill="#000" stroke="#000" stroke-width="0.3" stroke-linejoin="round">REF</text>
<text x="549.80" y="378.15" font-size="10.29" font-weight="bold" textLength="16.66" lengthAdjust="spacingAndGlyphs" fill="#000" stroke="#000" stroke-width="0.3" stroke-linejoin="round">DW</text>
<text x="552.63" y="413.30" font-size="19.13" font-weight="normal" textLength="69.50" lengthAdjust="spacingAndGlyphs" fill="#000" stroke="#000" stroke-width="1.0" stroke-linejoin="round">KITCHEN</text>
<text x="543.00" y="429.20" font-size="14.65" font-weight="bold" textLength="36.35" lengthAdjust="spacingAndGlyphs" fill="#000" stroke="#000" stroke-width="0.4" stroke-linejoin="round">15'-2&quot;</text>
<text x="583.57" y="429.20" font-size="14.65" font-weight="bold" textLength="7.00" lengthAdjust="spacingAndGlyphs" fill="#000" stroke="#000" stroke-width="0.4" stroke-linejoin="round">x</text>
<text x="596.29" y="429.20" font-size="14.65" font-weight="bold" textLength="36.67" lengthAdjust="spacingAndGlyphs" fill="#000" stroke="#000" stroke-width="0.4" stroke-linejoin="round">10'-2&quot;</text>
<text transform="translate(729.40,378.40) rotate(-90)" x="-0.39" y="0" font-size="11.45" font-weight="bold" textLength="33.24" lengthAdjust="spacingAndGlyphs" fill="#000" stroke="#000" stroke-width="0.6" stroke-linejoin="round">COATS</text>
<text x="358.35" y="503.55" font-size="10.43" font-weight="bold" textLength="16.24" lengthAdjust="spacingAndGlyphs" fill="#000" stroke="#000" stroke-width="0.3" stroke-linejoin="round">WH</text>
<text x="456.41" y="508.65" font-size="11.59" font-weight="bold" textLength="39.08" lengthAdjust="spacingAndGlyphs" fill="#000" stroke="#000" stroke-width="0.3" stroke-linejoin="round">PANTRY</text>
<text x="675.35" y="509.35" font-size="10.14" font-weight="bold" textLength="13.84" lengthAdjust="spacingAndGlyphs" fill="#000" stroke="#000" stroke-width="0.3" stroke-linejoin="round">UP</text>
<text x="678.85" y="544.30" font-size="18.84" font-weight="normal" textLength="53.65" lengthAdjust="spacingAndGlyphs" fill="#000" stroke="#000" stroke-width="1.0" stroke-linejoin="round">FOYER</text>
<text x="665.25" y="631.00" font-size="19.71" font-weight="normal" textLength="56.63" lengthAdjust="spacingAndGlyphs" fill="#000" stroke="#000" stroke-width="1.0" stroke-linejoin="round">PORCH</text>
<text x="656.79" y="646.00" font-size="14.23" font-weight="bold" textLength="29.25" lengthAdjust="spacingAndGlyphs" fill="#000" stroke="#000" stroke-width="0.4" stroke-linejoin="round">8'-3&quot;</text>
<text x="690.28" y="646.00" font-size="14.23" font-weight="bold" textLength="6.59" lengthAdjust="spacingAndGlyphs" fill="#000" stroke="#000" stroke-width="0.4" stroke-linejoin="round">x</text>
<text x="700.61" y="646.00" font-size="14.23" font-weight="bold" textLength="29.95" lengthAdjust="spacingAndGlyphs" fill="#000" stroke="#000" stroke-width="0.4" stroke-linejoin="round">6'-3&quot;</text>
<text x="431.62" y="661.30" font-size="18.84" font-weight="normal" textLength="8.68" lengthAdjust="spacingAndGlyphs" fill="#000" stroke="#000" stroke-width="1.0" stroke-linejoin="round">2</text>
<text x="445.44" y="661.30" font-size="18.84" font-weight="normal" textLength="32.17" lengthAdjust="spacingAndGlyphs" fill="#000" stroke="#000" stroke-width="1.0" stroke-linejoin="round">CAR</text>
<text x="482.84" y="661.30" font-size="18.84" font-weight="normal" textLength="65.03" lengthAdjust="spacingAndGlyphs" fill="#000" stroke="#000" stroke-width="1.0" stroke-linejoin="round">GARAGE</text>
<text x="444.99" y="677.60" font-size="14.51" font-weight="bold" textLength="39.22" lengthAdjust="spacingAndGlyphs" fill="#000" stroke="#000" stroke-width="0.4" stroke-linejoin="round">20'-5&quot;</text>
<text x="486.77" y="677.60" font-size="14.51" font-weight="bold" textLength="7.11" lengthAdjust="spacingAndGlyphs" fill="#000" stroke="#000" stroke-width="0.4" stroke-linejoin="round">x</text>
<text x="499.51" y="677.60" font-size="14.51" font-weight="bold" textLength="35.83" lengthAdjust="spacingAndGlyphs" fill="#000" stroke="#000" stroke-width="0.4" stroke-linejoin="round">19'-4&quot;</text>
<text x="341.66" y="856.80" font-size="29.71" font-weight="normal" textLength="66.58" lengthAdjust="spacingAndGlyphs" fill="#000" stroke="#000" stroke-width="1.0" stroke-linejoin="round">FIRST</text>
<text x="416.03" y="856.80" font-size="29.71" font-weight="normal" textLength="80.52" lengthAdjust="spacingAndGlyphs" fill="#000" stroke="#000" stroke-width="1.0" stroke-linejoin="round">FLOOR</text>
<text x="905.57" y="190.40" font-size="19.42" font-weight="normal" textLength="79.18" lengthAdjust="spacingAndGlyphs" fill="#000" stroke="#000" stroke-width="1.0" stroke-linejoin="round">BEDROOM</text>
<text x="988.40" y="190.40" font-size="19.42" font-weight="normal" textLength="8.37" lengthAdjust="spacingAndGlyphs" fill="#000" stroke="#000" stroke-width="1.0" stroke-linejoin="round">4</text>
<text x="907.79" y="205.60" font-size="15.07" font-weight="bold" textLength="36.67" lengthAdjust="spacingAndGlyphs" fill="#000" stroke="#000" stroke-width="0.4" stroke-linejoin="round">12'-6&quot;</text>
<text x="947.67" y="205.60" font-size="15.07" font-weight="bold" textLength="7.00" lengthAdjust="spacingAndGlyphs" fill="#000" stroke="#000" stroke-width="0.4" stroke-linejoin="round">x</text>
<text x="961.44" y="205.60" font-size="15.07" font-weight="bold" textLength="33.87" lengthAdjust="spacingAndGlyphs" fill="#000" stroke="#000" stroke-width="0.4" stroke-linejoin="round">11'-0&quot;</text>
<text transform="translate(1064.70,193.90) rotate(-90)" x="-0.60" y="0" font-size="10.43" font-weight="bold" textLength="27.81" lengthAdjust="spacingAndGlyphs" fill="#000" stroke="#000" stroke-width="0.6" stroke-linejoin="round">LINEN</text>
<text x="1122.61" y="190.30" font-size="19.42" font-weight="normal" textLength="41.83" lengthAdjust="spacingAndGlyphs" fill="#000" stroke="#000" stroke-width="1.0" stroke-linejoin="round">BATH</text>
<text x="1169.18" y="190.30" font-size="19.42" font-weight="normal" textLength="7.92" lengthAdjust="spacingAndGlyphs" fill="#000" stroke="#000" stroke-width="1.0" stroke-linejoin="round">1</text>
<text x="1102.31" y="303.25" font-size="8.55" font-weight="bold" textLength="25.32" lengthAdjust="spacingAndGlyphs" fill="#000" stroke="#000" stroke-width="0.3" stroke-linejoin="round">VAULT</text>
<text x="1200.41" y="303.25" font-size="8.55" font-weight="bold" textLength="24.81" lengthAdjust="spacingAndGlyphs" fill="#000" stroke="#000" stroke-width="0.3" stroke-linejoin="round">VAULT</text>
<text x="880.91" y="303.85" font-size="10.14" font-weight="bold" textLength="7.16" lengthAdjust="spacingAndGlyphs" fill="#000" stroke="#000" stroke-width="0.3" stroke-linejoin="round">D</text>
<text x="916.35" y="303.85" font-size="10.14" font-weight="bold" textLength="9.69" lengthAdjust="spacingAndGlyphs" fill="#000" stroke="#000" stroke-width="0.3" stroke-linejoin="round">W</text>
<text x="871.66" y="338.40" font-size="18.55" font-weight="normal" textLength="41.04" lengthAdjust="spacingAndGlyphs" fill="#000" stroke="#000" stroke-width="1.0" stroke-linejoin="round">LDRY</text>
<text x="994.53" y="346.30" font-size="18.55" font-weight="normal" textLength="41.29" lengthAdjust="spacingAndGlyphs" fill="#000" stroke="#000" stroke-width="1.0" stroke-linejoin="round">BATH</text>
<text x="1039.06" y="346.30" font-size="18.55" font-weight="normal" textLength="9.29" lengthAdjust="spacingAndGlyphs" fill="#000" stroke="#000" stroke-width="1.0" stroke-linejoin="round">2</text>
<text x="1118.57" y="365.10" font-size="19.13" font-weight="normal" textLength="79.18" lengthAdjust="spacingAndGlyphs" fill="#000" stroke="#000" stroke-width="1.0" stroke-linejoin="round">BEDROOM</text>
<text x="1201.28" y="365.10" font-size="19.13" font-weight="normal" textLength="7.36" lengthAdjust="spacingAndGlyphs" fill="#000" stroke="#000" stroke-width="1.0" stroke-linejoin="round">1</text>
<text x="1120.11" y="380.50" font-size="14.51" font-weight="bold" textLength="35.94" lengthAdjust="spacingAndGlyphs" fill="#000" stroke="#000" stroke-width="0.4" stroke-linejoin="round">13'-2&quot;</text>
<text x="1160.38" y="380.50" font-size="14.51" font-weight="bold" textLength="6.59" lengthAdjust="spacingAndGlyphs" fill="#000" stroke="#000" stroke-width="0.4" stroke-linejoin="round">x</text>
<text x="1171.70" y="380.50" font-size="14.51" font-weight="bold" textLength="36.25" lengthAdjust="spacingAndGlyphs" fill="#000" stroke="#000" stroke-width="0.4" stroke-linejoin="round">14'-9&quot;</text>
<text x="912.97" y="479.00" font-size="19.42" font-weight="normal" textLength="39.14" lengthAdjust="spacingAndGlyphs" fill="#000" stroke="#000" stroke-width="1.0" stroke-linejoin="round">LOFT</text>
<text x="889.32" y="494.50" font-size="14.93" font-weight="bold" textLength="37.04" lengthAdjust="spacingAndGlyphs" fill="#000" stroke="#000" stroke-width="0.4" stroke-linejoin="round">9'-10&quot;</text>
<text x="930.27" y="494.50" font-size="14.93" font-weight="bold" textLength="7.00" lengthAdjust="spacingAndGlyphs" fill="#000" stroke="#000" stroke-width="0.4" stroke-linejoin="round">x</text>
<text x="943.33" y="494.50" font-size="14.93" font-weight="bold" textLength="34.89" lengthAdjust="spacingAndGlyphs" fill="#000" stroke="#000" stroke-width="0.4" stroke-linejoin="round">12'-0&quot;</text>
<text x="994.15" y="498.35" font-size="10.00" font-weight="bold" textLength="13.34" lengthAdjust="spacingAndGlyphs" fill="#000" stroke="#000" stroke-width="0.3" stroke-linejoin="round">DN</text>
<text transform="translate(1250.70,494.40) rotate(-90)" x="-0.61" y="0" font-size="9.71" font-weight="bold" textLength="17.65" lengthAdjust="spacingAndGlyphs" fill="#000" stroke="#000" stroke-width="0.6" stroke-linejoin="round">LIN.</text>
<text x="1077.51" y="548.55" font-size="10.72" font-weight="bold" textLength="28.82" lengthAdjust="spacingAndGlyphs" fill="#000" stroke="#000" stroke-width="0.3" stroke-linejoin="round">MECH</text>
<text x="1185.72" y="575.50" font-size="19.13" font-weight="normal" textLength="29.26" lengthAdjust="spacingAndGlyphs" fill="#000" stroke="#000" stroke-width="1.0" stroke-linejoin="round">WIC</text>
<text x="888.36" y="689.00" font-size="19.28" font-weight="normal" textLength="80.22" lengthAdjust="spacingAndGlyphs" fill="#000" stroke="#000" stroke-width="1.0" stroke-linejoin="round">BEDROOM</text>
<text x="971.06" y="689.00" font-size="19.28" font-weight="normal" textLength="9.29" lengthAdjust="spacingAndGlyphs" fill="#000" stroke="#000" stroke-width="1.0" stroke-linejoin="round">2</text>
<text x="891.09" y="704.60" font-size="15.07" font-weight="bold" textLength="36.46" lengthAdjust="spacingAndGlyphs" fill="#000" stroke="#000" stroke-width="0.4" stroke-linejoin="round">10'-1&quot;</text>
<text x="931.68" y="704.60" font-size="15.07" font-weight="bold" textLength="6.80" lengthAdjust="spacingAndGlyphs" fill="#000" stroke="#000" stroke-width="0.4" stroke-linejoin="round">x</text>
<text x="943.22" y="704.60" font-size="15.07" font-weight="bold" textLength="35.41" lengthAdjust="spacingAndGlyphs" fill="#000" stroke="#000" stroke-width="0.4" stroke-linejoin="round">13'-4&quot;</text>
<text x="1030.07" y="689.00" font-size="19.28" font-weight="normal" textLength="79.60" lengthAdjust="spacingAndGlyphs" fill="#000" stroke="#000" stroke-width="1.0" stroke-linejoin="round">BEDROOM</text>
<text x="1112.66" y="689.00" font-size="19.28" font-weight="normal" textLength="8.90" lengthAdjust="spacingAndGlyphs" fill="#000" stroke="#000" stroke-width="1.0" stroke-linejoin="round">3</text>
<text x="1032.48" y="704.60" font-size="15.07" font-weight="bold" textLength="37.30" lengthAdjust="spacingAndGlyphs" fill="#000" stroke="#000" stroke-width="0.4" stroke-linejoin="round">10'-0&quot;</text>
<text x="1073.08" y="704.60" font-size="15.07" font-weight="bold" textLength="6.80" lengthAdjust="spacingAndGlyphs" fill="#000" stroke="#000" stroke-width="0.4" stroke-linejoin="round">x</text>
<text x="1084.10" y="704.60" font-size="15.07" font-weight="bold" textLength="36.35" lengthAdjust="spacingAndGlyphs" fill="#000" stroke="#000" stroke-width="0.4" stroke-linejoin="round">13'-4&quot;</text>
<text x="861.38" y="842.60" font-size="29.71" font-weight="normal" textLength="97.02" lengthAdjust="spacingAndGlyphs" fill="#000" stroke="#000" stroke-width="1.0" stroke-linejoin="round">SECOND</text>
<text x="965.57" y="842.60" font-size="29.71" font-weight="normal" textLength="78.96" lengthAdjust="spacingAndGlyphs" fill="#000" stroke="#000" stroke-width="1.0" stroke-linejoin="round">FLOOR</text>
</g>
</g>
</svg>
</body></html>
